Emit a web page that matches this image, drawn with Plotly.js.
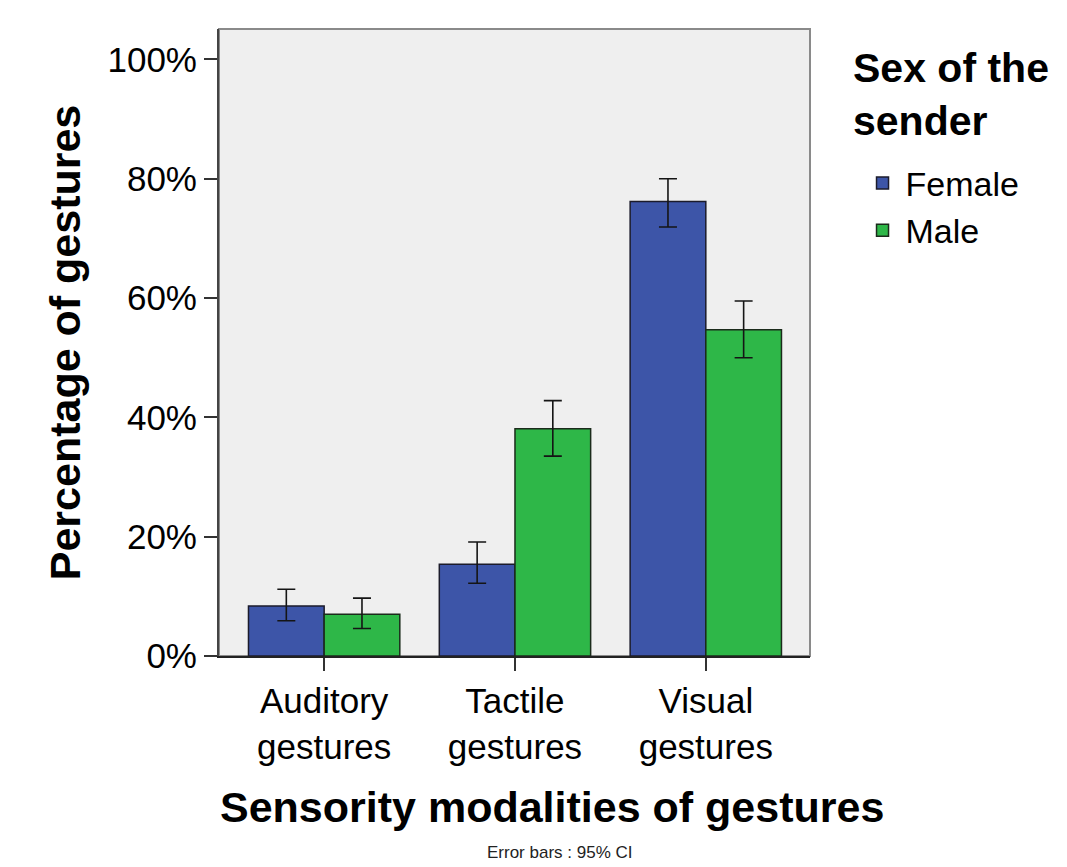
<!DOCTYPE html>
<html>
<head>
<meta charset="utf-8">
<script src="https://cdn.plot.ly/plotly-3.0.1.min.js"></script>
<style>html,body{margin:0;padding:0;background:#fff;}#chart{width:1067px;height:867px;}</style>
</head>
<body>
<div id="chart"></div>
<script>
// ---- data ----
const categories = ["Auditory<br>gestures", "Tactile<br>gestures", "Visual<br>gestures"];
const seriesNames = ["Female", "Male"];
const femaleValues = [8.4, 15.4, 76.2];
const femaleUpper  = [11.2, 19.1, 80.0];
const femaleLower  = [5.9, 12.2, 71.9];
const maleValues   = [7.0, 38.1, 54.7];
const maleUpper    = [9.7, 42.8, 59.5];
const maleLower    = [4.6, 33.5, 50.0];
const yTickValues  = [0, 20, 40, 60, 80, 100];
const yTickLabels  = ["0%", "20%", "40%", "60%", "80%", "100%"];
const xTitle = "Sensority modalities of gestures";
const yTitle = "Percentage of gestures";
const legendTitle = "Sex of the<br>sender";
const footNote = "Error bars : 95% CI";

const FONT = "Liberation Sans, Arial, sans-serif";

function errArrays(vals, up, lo) {
  return {
    plus: vals.map((v, i) => up[i] - v),
    minus: vals.map((v, i) => v - lo[i])
  };
}
const fe = errArrays(femaleValues, femaleUpper, femaleLower);
const me = errArrays(maleValues, maleUpper, maleLower);

const errStyle = {color: "#151515", thickness: 1.6, width: 9};

const traces = [
  {
    type: "bar", name: seriesNames[0], x: categories, y: femaleValues,
    marker: {color: "#3D55A8", line: {color: "#1b1b2b", width: 1.5}},
    error_y: Object.assign({type: "data", symmetric: false, array: fe.plus, arrayminus: fe.minus}, errStyle),
    hoverinfo: "x+y"
  },
  {
    type: "bar", name: seriesNames[1], x: categories, y: maleValues,
    marker: {color: "#2EB748", line: {color: "#1b2b1b", width: 1.5}},
    error_y: Object.assign({type: "data", symmetric: false, array: me.plus, arrayminus: me.minus}, errStyle),
    hoverinfo: "x+y"
  }
];

const layout = {
  width: 1067, height: 867,
  margin: {l: 219, r: 257, t: 29, b: 211, pad: 0},
  paper_bgcolor: "#ffffff",
  plot_bgcolor: "#efefef",
  font: {family: FONT, color: "#000", size: 35},
  barmode: "group",
  bargap: 0.207,
  bargroupgap: 0,
  showlegend: true,
  legend: {
    x: 1.0838, y: 0.80, xanchor: "left", yanchor: "top",
    bgcolor: "rgba(0,0,0,0)", borderwidth: 0,
    font: {family: FONT, size: 34, color: "#000"},
    itemwidth: 36,
    tracegroupgap: 0
  },
  xaxis: {
    type: "category",
    range: [-0.551, 2.546],
    showgrid: false, zeroline: false,
    showline: true, linecolor: "#222", linewidth: 2,
    ticks: "outside", ticklen: 13, tickwidth: 2, tickcolor: "#333",
    tickfont: {family: FONT, size: 35, color: "#000"},
    fixedrange: true
  },
  yaxis: {
    range: [0, 105.1],
    tickvals: yTickValues, ticktext: yTickLabels,
    showgrid: false, zeroline: false,
    showline: true, linecolor: "#444", linewidth: 2,
    ticks: "outside", ticklen: 13, tickwidth: 2, tickcolor: "#333",
    tickfont: {family: FONT, size: 35, color: "#000"},
    title: {
      text: yTitle,
      font: {family: FONT, size: 43, weight: "bold", color: "#000"},
      standoff: 13
    },
    fixedrange: true
  },
  shapes: [
    {type: "rect", xref: "paper", yref: "paper", x0: 0, x1: 1, y0: 0, y1: 1,
     line: {color: "#8a8a8a", width: 2}, fillcolor: "rgba(0,0,0,0)", layer: "below"}
  ],
  annotations: [
    {text: xTitle, xref: "paper", yref: "paper", x: 0.5635, y: -0.2408,
     xanchor: "center", yanchor: "middle", showarrow: false, borderpad: 0, borderwidth: 0,
     font: {family: FONT, size: 43, weight: "bold", color: "#000"}},
    {text: legendTitle, xref: "paper", yref: "paper", x: 1.0728, y: 0.9745,
     xanchor: "left", yanchor: "top", align: "left", showarrow: false, borderpad: 0, borderwidth: 0,
     font: {family: FONT, size: 41, weight: "bold", color: "#000"}},
    {text: footNote, xref: "paper", yref: "paper", x: 0.577, y: -0.3126,
     xanchor: "center", yanchor: "middle", showarrow: false, borderpad: 0, borderwidth: 0,
     font: {family: FONT, size: 17, color: "#222"}}
  ]
};

Plotly.newPlot("chart", traces, layout, {displayModeBar: false, staticPlot: true});
</script>
</body>
</html>
